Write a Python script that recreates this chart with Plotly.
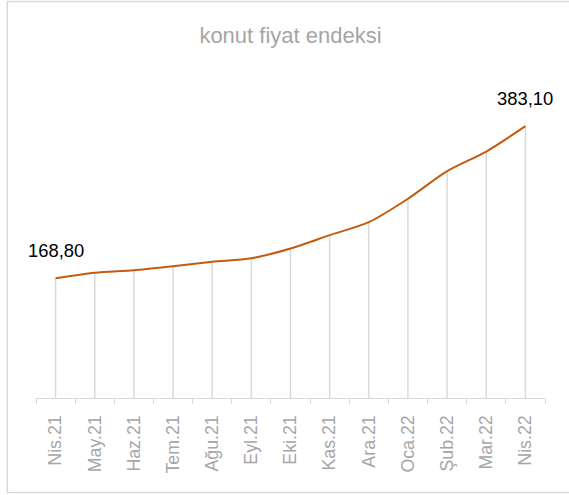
import plotly.graph_objects as go

# ---- data ----
months = ["Nis.21", "May.21", "Haz.21", "Tem.21", "Ağu.21", "Eyl.21", "Eki.21",
          "Kas.21", "Ara.21", "Oca.22", "Şub.22", "Mar.22", "Nis.22"]
values = [168.8, 176.5, 180.1, 185.8, 192.0, 197.0, 210.7,
          229.5, 247.8, 280.8, 319.7, 347.4, 383.1]
title_text = "konut fiyat endeksi"

# ---- layout constants ----
W, H = 569, 495
ML, MR, MT, MB = 36, 24, 60, 97
PX_PER_UNIT = 0.7095
plot_w = W - ML - MR
plot_h = H - MT - MB
ymax = plot_h / PX_PER_UNIT

FONT = "Liberation Sans, Arial, sans-serif"
LINE_COLOR = "#C55A11"
GRAY_LINE = "#D9D9D9"
GRAY_TEXT = "#A6A6A6"

fig = go.Figure()

# drop lines (from each point down to the axis)
fig.add_trace(go.Scatter(
    x=months, y=values, mode="markers",
    marker=dict(size=1, opacity=0),
    error_y=dict(type="data", symmetric=False,
                 array=[0] * len(values), arrayminus=values,
                 color=GRAY_LINE, thickness=1.5, width=0),
    hoverinfo="skip", showlegend=False,
))

# main smoothed line
fig.add_trace(go.Scatter(
    x=months, y=values, mode="lines",
    line=dict(color=LINE_COLOR, width=2, shape="spline", smoothing=0.8),
    showlegend=False,
))

def fmt(v):
    return f"{v:.2f}".replace(".", ",")

annotations = []
for i in (0, len(values) - 1):
    annotations.append(dict(
        x=months[i], y=values[i], text=fmt(values[i]),
        showarrow=False, yshift=28,
        font=dict(family=FONT, size=18.4, color="#000000"),
    ))

# chart border (left at x~7, top ~1.5, bottom ~492.5, right off-image)
bx0 = (7.3 - ML) / plot_w
bx1 = (W + 5 - ML) / plot_w
by0 = (H - MB - 492.5) / plot_h
by1 = (H - MB - 1.5) / plot_h

fig.update_layout(
    width=W, height=H,
    margin=dict(l=ML, r=MR, t=MT, b=MB, pad=0),
    paper_bgcolor="white", plot_bgcolor="white",
    title=dict(text=title_text, x=0.5, xref="paper", xanchor="center",
               y=1 - 35 / H, yref="container", yanchor="middle",
               font=dict(family=FONT, size=22, color=GRAY_TEXT)),
    xaxis=dict(type="category", range=[-0.5, len(months) - 0.5],
               showline=True, linecolor=GRAY_LINE, linewidth=1.3,
               ticks="outside", tickson="boundaries", ticklen=5,
               tickcolor=GRAY_LINE, tickwidth=1.3,
               tickangle=-90, showgrid=False, zeroline=False,
               ticklabelstandoff=9,
               tickfont=dict(family=FONT, size=17.8, color=GRAY_TEXT)),
    yaxis=dict(visible=False, range=[0, ymax], showgrid=False, zeroline=False),
    annotations=annotations,
    shapes=[dict(type="rect", xref="paper", yref="paper",
                 x0=bx0, x1=bx1, y0=by0, y1=by1,
                 line=dict(color=GRAY_LINE, width=1.5), layer="below")],
)

fig.write_html("out.html", config={"displayModeBar": False},
               post_script="document.body.style.margin='0px';")
